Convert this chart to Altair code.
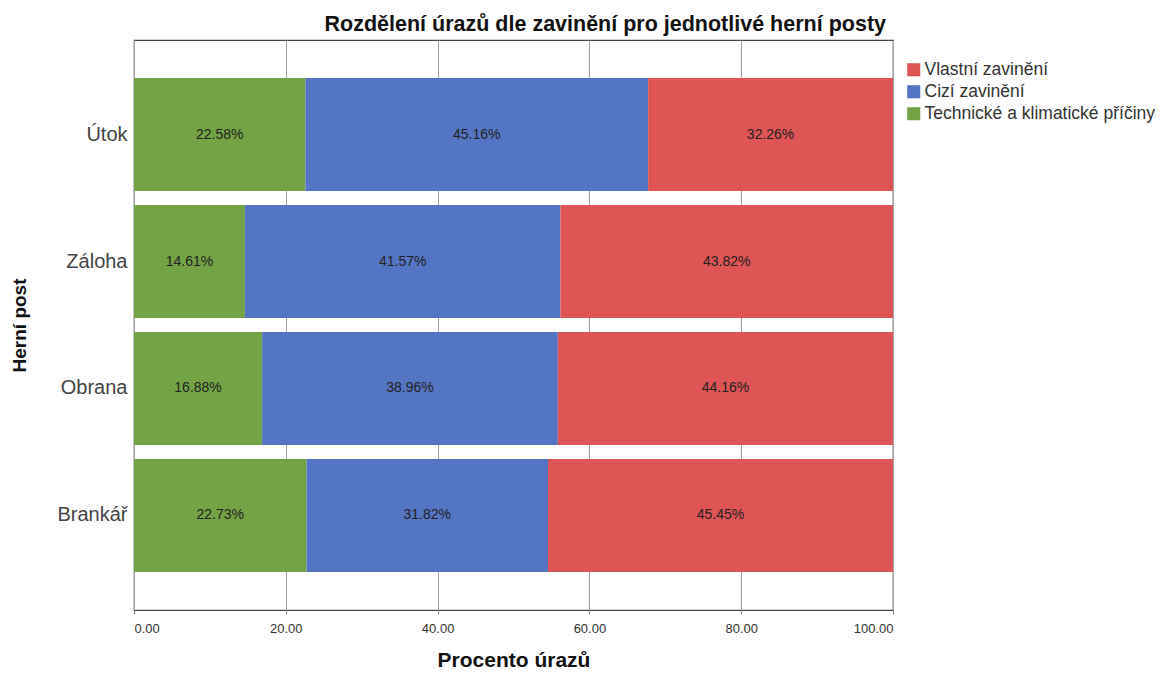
import altair as alt
import pandas as pd

posts = ["Útok", "Záloha", "Obrana", "Brankář"]
categories = ["Vlastní zavinění", "Cizí zavinění", "Technické a klimatické příčiny"]
colors = ["#df5455", "#5475c3", "#74a345"]
tech = [22.58, 14.61, 16.88, 22.73]
cizi = [45.16, 41.57, 38.96, 31.82]
vlastni = [32.26, 43.82, 44.16, 45.45]

rows = []
for i, p in enumerate(posts):
    rows.append({"post": p, "cat": categories[2], "ord": 0, "val": tech[i]})
    rows.append({"post": p, "cat": categories[1], "ord": 1, "val": cizi[i]})
    rows.append({"post": p, "cat": categories[0], "ord": 2, "val": vlastni[i]})
df = pd.DataFrame(rows)

font = "Liberation Sans"

base = alt.Chart(df).transform_stack(
    stack="val", groupby=["post"], as_=["x0", "x1"], sort=[alt.SortField("ord", order="ascending")]
).transform_calculate(
    mid="(datum.x0 + datum.x1) / 2",
    lab="format(datum.val, '.2f') + '%'"
)

y_enc = alt.Y("post:N", sort=posts,
              scale=alt.Scale(paddingInner=0.11, paddingOuter=0.3),
              axis=alt.Axis(title="Herní post", labelFontSize=20, labelColor="#444",
                            titleFontSize=19, titleFontWeight="bold", titleColor="#111",
                            ticks=False, domain=False, labelPadding=7, titlePadding=27,
                            labelFont=font, titleFont=font))

bars = base.mark_bar().encode(
    x=alt.X("x0:Q", scale=alt.Scale(domain=[0, 100], nice=False),
            axis=alt.Axis(title="Procento úrazů", values=[0, 20, 40, 60, 80, 100], format=".2f",
                          labelFontSize=13, labelColor="#333", titleFontSize=21,
                          titleFontWeight="bold", titleColor="#111", grid=True,
                          gridColor="#a0a0a0", domain=False, tickColor="#888", tickSize=4,
                          labelPadding=8, titlePadding=14, labelFont=font, titleFont=font)),
    x2="x1:Q",
    y=y_enc,
    color=alt.Color("cat:N", scale=alt.Scale(domain=categories, range=colors),
                    legend=alt.Legend(title=None, orient="none", legendX=771, legendY=21,
                                      symbolType="square", symbolSize=170, symbolStrokeWidth=0,
                                      labelFontSize=17.5, labelColor="#333", labelFont=font,
                                      labelLimit=0, rowPadding=3, symbolOffset=0, labelOffset=2)),
)

texts = base.mark_text(fontSize=14, color="#222", font=font).encode(
    x="mid:Q",
    y=alt.Y("post:N", sort=posts),
    text="lab:N",
)

chart = alt.layer(bars, texts).properties(
    width=759, height=570,
    title=alt.Title("Rozdělení úrazů dle zavinění pro jednotlivé herní posty", fontSize=21.5,
                    fontWeight="bold", color="#111", anchor="end", frame="group", dx=-7,
                    offset=5, font=font),
    autosize=alt.AutoSizeParams(type="none"),
    padding={"left": 126, "top": 32, "right": 264, "bottom": 60},
).configure_view(stroke="#444", strokeWidth=1.2)

chart.save("out.html", embed_options={"renderer": "svg", "actions": False})
